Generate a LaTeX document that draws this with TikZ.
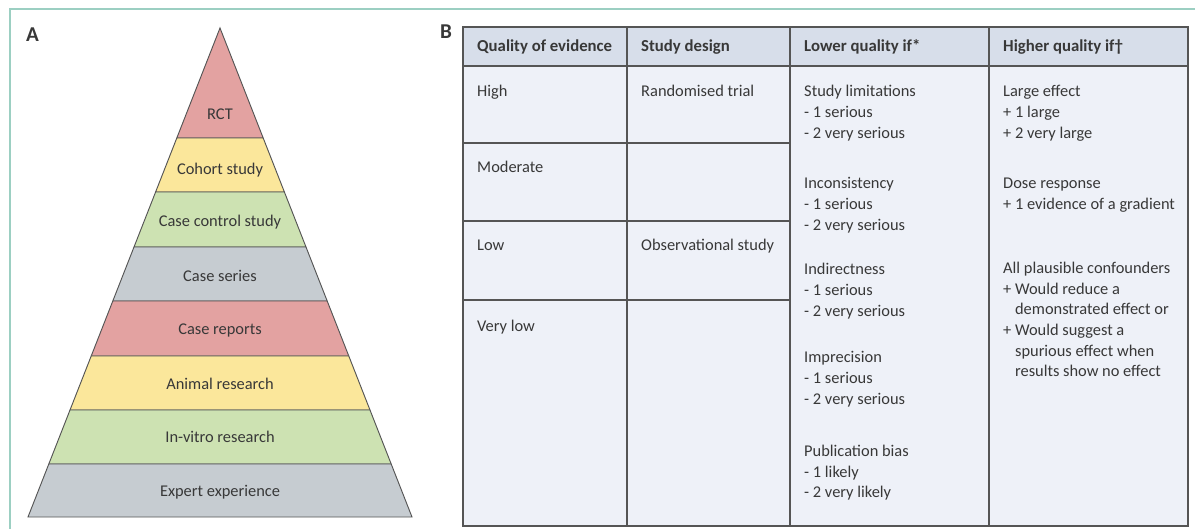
\documentclass[tikz,border=0pt]{standalone}
\usepackage{fontspec}
\setmainfont{Carlito}
\usetikzlibrary{calc}
\definecolor{framegreen}{HTML}{9CCFC2}
\definecolor{layerred}{HTML}{E3A2A1}
\definecolor{layeryellow}{HTML}{FBE79B}
\definecolor{layergreen}{HTML}{CDE2B2}
\definecolor{layergray}{HTML}{C6CCD1}
\definecolor{headfill}{HTML}{D7DEEA}
\definecolor{cellfill}{HTML}{EEF1F8}
\definecolor{inkgray}{HTML}{383838}
\definecolor{rulegray}{HTML}{555555}
\begin{document}
\begin{tikzpicture}[x=0.03cm, y=-0.03cm]
    % Define styles
    \tikzset{
        panellabel/.style={font=\fontsize{18}{20}\selectfont\bfseries, text=inkgray, anchor=base west, inner sep=0pt},
        layer/.style={draw=rulegray, line width=0.8pt},
        layertext/.style={font=\fontsize{14}{17}\selectfont, text=inkgray, anchor=base, inner sep=0pt},
        headtext/.style={font=\fontsize{14.3}{17}\selectfont\bfseries, text=inkgray, anchor=base west, inner sep=0pt},
        celltext/.style={font=\fontsize{14}{17.6}\selectfont, text=inkgray, anchor=base west, inner sep=0pt, align=left},
        tableline/.style={draw=rulegray, line width=1pt}
    }
    \useasboundingbox (0,0) rectangle (1195,529);

    % Outer frame
    \draw[framegreen, line width=1.3pt] (10,560) -- (10,9) -- (1220,9);

    % Panel letters
    \node[panellabel] (letterA) at (26,41.7) {A};
    \node[panellabel] (letterB) at (440,38) {B};

    % Pyramid of evidence
    \coordinate (apex) at (220,28);
    \coordinate (baseleft) at (28,517);
    \coordinate (baseright) at (412,517);
    \foreach \ytop/\ybot/\ybase/\col/\lab [count=\i] in {
        28/138/119/layerred/RCT,
        138/192/174/layeryellow/Cohort study,
        192/247/226/layergreen/Case control study,
        247/301/281.3/layergray/Case series,
        301/356/334.7/layerred/Case reports,
        356/410/389/layeryellow/Animal research,
        410/464/442.3/layergreen/In-vitro research,
        464/517/496/layergray/Expert experience}
    {
        \pgfmathsetmacro{\ft}{(\ytop-28)/489}
        \pgfmathsetmacro{\fb}{(\ybot-28)/489}
        \draw[layer, fill=\col] ($(apex)!\ft!(baseleft)$) -- ($(apex)!\fb!(baseleft)$)
            -- ($(apex)!\fb!(baseright)$) -- ($(apex)!\ft!(baseright)$) -- cycle;
        \node[layertext] (layer\i) at (220,\ybase) {\lab};
    }

    % GRADE table
    \fill[headfill] (463,27) rectangle (1188,66);
    \fill[cellfill] (463,66) rectangle (1188,526);
    \draw[tableline] (463,27) rectangle (1188,526);
    \draw[tableline] (463,66) -- (1188,66);
    \foreach \x in {627,790,989}
        \draw[tableline] (\x,27) -- (\x,526);
    \foreach \y in {143,221,300}
        \draw[tableline] (463,\y) -- (790,\y);

    % Header row
    \node[headtext] (headquality) at (477,51.7) {Quality of evidence};
    \node[headtext] (headdesign) at (641,51.7) {Study design};
    \node[headtext] (headlower) at (804,51.7) {Lower quality if*};
    \node[headtext] (headhigher) at (1003,51.7) {Higher quality if†};

    % Quality levels and designs
    \node[celltext] (high) at (477,96.7) {High};
    \node[celltext] (moderate) at (477,172.5) {Moderate};
    \node[celltext] (low) at (477,250.5) {Low};
    \node[celltext] (verylow) at (477,331) {Very low};
    \node[celltext] (randomised) at (641,96.7) {Randomised trial};
    \node[celltext] (observational) at (641,250.5) {Observational study};

    % Reasons to lower quality (placed at the baseline of the last line)
    \node[celltext] (limitations) at (804,138) {Study limitations\\- 1 serious\\- 2 very serious};
    \node[celltext] (inconsistency) at (804,230) {Inconsistency\\- 1 serious\\- 2 very serious};
    \node[celltext] (indirectness) at (804,316) {Indirectness\\- 1 serious\\- 2 very serious};
    \node[celltext] (imprecision) at (804,404) {Imprecision\\- 1 serious\\- 2 very serious};
    \node[celltext] (pubbias) at (804,497.7) {Publication bias\\- 1 likely\\- 2 very likely};

    % Reasons to raise quality
    \node[celltext] (largeeffect) at (1003,138) {Large effect\\+ 1 large\\+ 2 very large};
    \node[celltext] (dose) at (1003,209) {Dose response\\+ 1 evidence of a gradient};
    \node[celltext] (confounders) at (1003,376.7) {All plausible confounders\\+ Would reduce a\\\phantom{+ }demonstrated effect or\\+ Would suggest a\\\phantom{+ }spurious effect when\\\phantom{+ }results show no effect};
\end{tikzpicture}
\end{document}
